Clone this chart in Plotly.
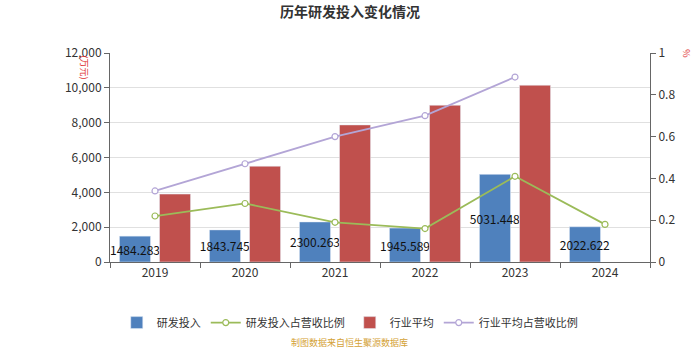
import plotly.graph_objects as go

years = ["2019", "2020", "2021", "2022", "2023", "2024"]
rd_invest = [1484.283, 1843.745, 2300.263, 1945.589, 5031.448, 2022.622]
rd_ratio = [0.22, 0.28, 0.19, 0.16, 0.41, 0.18]
ind_avg = [3900, 5500, 7870, 9000, 10150, None]
ind_ratio = [0.34, 0.47, 0.60, 0.70, 0.885, None]
rd_labels = ["1484.283", "1843.745", "2300.263", "1945.589", "5031.448", "2022.622"]

FONT = "Noto Sans CJK SC"
BLUE = "#4f81bd"
RED = "#c0504d"
GREEN = "#9bbb59"
PURPLE = "#b3a5d6"

fig = go.Figure()
fig.add_trace(go.Bar(
    x=years, y=rd_invest, name="研发投入", marker_color=BLUE, offsetgroup="a",
    text=rd_labels, textposition="inside", insidetextanchor="middle", textangle=0,
    constraintext="none", textfont=dict(color="#111", size=12, family=FONT),
    cliponaxis=False,
))
fig.add_trace(go.Scatter(
    x=years, y=rd_ratio, name="研发投入占营收比例", yaxis="y2", mode="lines+markers",
    line=dict(color=GREEN, width=1.8),
    marker=dict(symbol="circle", size=6, color="white", line=dict(color=GREEN, width=1.2)),
))
fig.add_trace(go.Bar(
    x=years, y=ind_avg, name="行业平均", marker_color=RED, offsetgroup="b",
))
fig.add_trace(go.Scatter(
    x=years, y=ind_ratio, name="行业平均占营收比例", yaxis="y2", mode="lines+markers",
    line=dict(color=PURPLE, width=1.8),
    marker=dict(symbol="circle", size=6, color="white", line=dict(color=PURPLE, width=1.2)),
))

annotations = [
    dict(text="(万元)", xref="paper", yref="paper", x=-0.047, y=1.0, xanchor="center",
         yanchor="top", textangle=90, showarrow=False, font=dict(size=9, color="#e03030")),
    dict(text="%", xref="paper", yref="paper", x=1.068, y=1.0, xanchor="center",
         yanchor="middle", textangle=90, showarrow=False, font=dict(size=9, color="#e03030")),
    dict(text="制图数据来自恒生聚源数据库", xref="paper", yref="paper", x=0.444, y=-0.385,
         xanchor="center", yanchor="middle", showarrow=False,
         font=dict(size=9, color="#d4a236")),
]

fig.update_layout(
    width=700, height=350,
    margin=dict(l=110, r=50, t=53, b=88),
    paper_bgcolor="white", plot_bgcolor="white",
    font=dict(family=FONT, size=12, color="#333"),
    barmode="group", bargap=0.11, bargroupgap=0.225,
    uniformtext=dict(mode=False),
    title=dict(text="<b>历年研发投入变化情况</b>", x=0.5, xanchor="center", y=0.965, yanchor="middle",
               font=dict(size=14, color="#333", family=FONT)),
    xaxis=dict(type="category", showline=True, linecolor="#666", linewidth=1, ticks="outside",
               ticklen=5, tickcolor="#666", tickson="boundaries", showgrid=False,
               tickfont=dict(size=12, color="#333")),
    yaxis=dict(range=[0, 12000], dtick=2000, tickformat=",", showline=True, linecolor="#666",
               ticks="outside", ticklen=5, tickcolor="#666", gridcolor="#e0e0e0",
               zeroline=False, tickfont=dict(size=12, color="#333")),
    yaxis2=dict(range=[0, 1], dtick=0.2, overlaying="y", side="right", showline=True,
                linecolor="#666", ticks="outside", ticklen=5, tickcolor="#666",
                showgrid=False, zeroline=False, tickfont=dict(size=12, color="#333")),
    legend=dict(orientation="h", x=0.444, xanchor="center", y=-0.29,
                yanchor="middle", font=dict(size=11, color="#333"), itemwidth=30,
                traceorder="normal", tracegroupgap=0),
    annotations=annotations,
)

fig.write_html("out.html")
